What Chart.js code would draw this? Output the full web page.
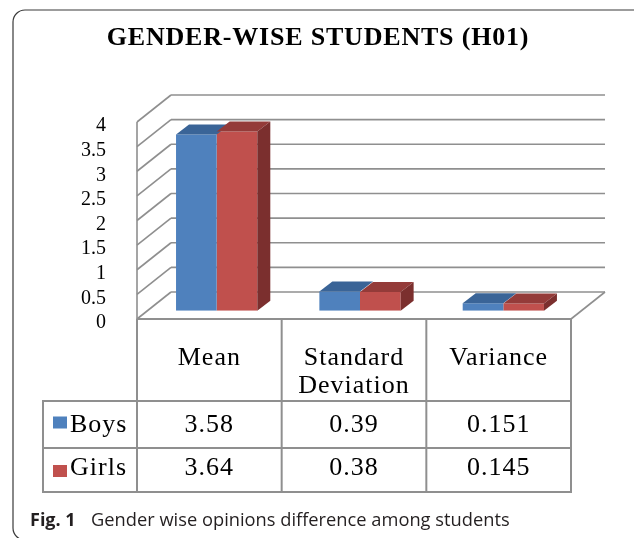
<!DOCTYPE html>
<html>
<head>
<meta charset="utf-8">
<title>Gender-wise students (H01)</title>
<script src="https://cdn.jsdelivr.net/npm/chart.js@4"></script>
<style>
  html, body { margin: 0; padding: 0; background: #fff; }
  #caixa { width: 634px; height: 538px; position: relative; }
</style>
</head>
<body>
<div id="caixa"><canvas id="grafico"></canvas></div>
<script>
// Dados do gráfico
const categories = [['Mean'], ['Standard', 'Deviation'], ['Variance']];
const seriesNames = ['Boys', 'Girls'];
const boysValues = [3.58, 0.39, 0.151];
const girlsValues = [3.64, 0.38, 0.145];
const yTickLabels = ['0', '0.5', '1', '1.5', '2', '2.5', '3', '3.5', '4'];

const serif = '"Liberation Serif", "Times New Roman", serif';
const sans = '"Open Sans", "Noto Sans", sans-serif';
const gridColour = '#8f8f8f';
const frontColours = ['#4F81BD', '#C0504D'];
const topColours = ['#3a6497', '#943b39'];
const sideColours = ['#2f5380', '#7b2f2e'];

// deslocamentos do efeito 3D (em pixeis)
const wallDepth = { x: 34, y: -27 };   // aresta da frente -> parede do fundo
const barShift = { x: 8, y: -8.3 };    // aresta da frente -> face da barra
const barDepth = { x: 13, y: -10 };    // profundidade da barra

function line(ctx, x1, y1, x2, y2) {
    ctx.beginPath();
    ctx.moveTo(x1, y1);
    ctx.lineTo(x2, y2);
    ctx.stroke();
}

function quad(ctx, pts, colour) {
    ctx.beginPath();
    ctx.moveTo(pts[0][0], pts[0][1]);
    for (let i = 1; i < pts.length; i++) ctx.lineTo(pts[i][0], pts[i][1]);
    ctx.closePath();
    ctx.fillStyle = colour;
    ctx.fill();
}

// plano da frente (chão + tabela) derivado das escalas
function frontPlane(chart) {
    const ca = chart.chartArea;
    const left = ca.left - barShift.x;
    const right = ca.right - 4;
    const xs = chart.scales.x;
    return {
        left: left,
        right: right,
        y: v => chart.scales.y.getPixelForValue(v) - barShift.y,
        col: i => left + (xs.getPixelForValue(i - 0.5) - ca.left) * (right - left) / (ca.right - ca.left)
    };
}

function drawFrame(ctx) {
    const x = 13, y = 10, w = 660, h = 530, r = 12;
    ctx.save();
    ctx.strokeStyle = '#3a3a3a';
    ctx.lineWidth = 1.2;
    ctx.beginPath();
    ctx.moveTo(x + r, y);
    ctx.lineTo(x + w, y);
    ctx.moveTo(x + r, y);
    ctx.arcTo(x, y, x, y + r, r);
    ctx.lineTo(x, y + h - r);
    ctx.arcTo(x, y + h, x + r, y + h, r);
    ctx.lineTo(x + w, y + h);
    ctx.stroke();
    ctx.restore();
}

function drawTitle(ctx) {
    ctx.save();
    ctx.font = 'bold 26px ' + serif;
    ctx.letterSpacing = '0.8px';
    ctx.fillStyle = '#000';
    ctx.textBaseline = 'alphabetic';
    const txt = 'GENDER-WISE STUDENTS (H01)';
    const w = ctx.measureText(txt).width;
    ctx.fillText(txt, 318 - w / 2, 45);
    ctx.restore();
}

function drawWalls(ctx, chart, fp) {
    ctx.save();
    ctx.strokeStyle = gridColour;
    ctx.lineWidth = 1.6;
    const backLeft = fp.left + wallDepth.x;
    const backRight = fp.right + wallDepth.x;
    yTickLabels.forEach(t => {
        const v = parseFloat(t);
        const yf = fp.y(v);
        const yb = yf + wallDepth.y;
        line(ctx, backLeft, yb, backRight, yb);          // parede do fundo
        line(ctx, fp.left, yf, backLeft, yb);            // parede lateral
    });
    // aresta vertical da frente
    line(ctx, fp.left, fp.y(0), fp.left, fp.y(4));
    // chão: aresta direita
    line(ctx, fp.right, fp.y(0), backRight, fp.y(0) + wallDepth.y);
    ctx.restore();

    // etiquetas do eixo
    ctx.save();
    ctx.font = '20px ' + serif;
    ctx.fillStyle = '#000';
    ctx.textAlign = 'right';
    ctx.textBaseline = 'middle';
    yTickLabels.forEach(t => {
        ctx.fillText(t, 106, fp.y(parseFloat(t)) + 4);
    });
    ctx.restore();
}

function drawTable(ctx, chart, fp) {
    const top = fp.y(0);
    const headBottom = 401, rowMid = 448, bottom = 492, tableLeft = 43;
    const cols = [0, 1, 2, 3].map(i => fp.col(i));
    const valuesBySeries = [boysValues, girlsValues];

    ctx.save();
    ctx.strokeStyle = gridColour;
    ctx.lineWidth = 2;
    line(ctx, cols[0], top, cols[3], top);
    cols.forEach(c => line(ctx, c, top, c, headBottom));
    ctx.strokeRect(tableLeft, headBottom, cols[3] - tableLeft, bottom - headBottom);
    line(ctx, tableLeft, rowMid, cols[3], rowMid);
    cols.slice(0, 3).forEach(c => line(ctx, c, headBottom, c, bottom));

    ctx.font = '26px ' + serif;
    ctx.letterSpacing = '1px';
    ctx.fillStyle = '#000';
    ctx.textAlign = 'center';
    ctx.textBaseline = 'alphabetic';
    categories.forEach((lab, i) => {
        const cx = (cols[i] + cols[i + 1]) / 2;
        lab.forEach((l, k) => ctx.fillText(l, cx, 365 + k * 28));
    });

    const baselines = [431.7, 475];
    valuesBySeries.forEach((vals, s) => {
        vals.forEach((v, i) => {
            const cx = (cols[i] + cols[i + 1]) / 2;
            ctx.fillText(String(v), cx, baselines[s]);
        });
    });

    // legenda dentro da tabela
    ctx.textAlign = 'left';
    const keyTops = [416.5, 465];
    seriesNames.forEach((n, s) => {
        ctx.fillStyle = frontColours[s];
        ctx.fillRect(53, keyTops[s], 14, 12);
        ctx.fillStyle = '#000';
        ctx.fillText(n, 70, baselines[s]);
    });
    ctx.restore();
}

function drawCaption(ctx) {
    ctx.save();
    ctx.fillStyle = '#231f20';
    ctx.textBaseline = 'alphabetic';
    ctx.font = 'bold 18px ' + sans;
    ctx.fillText('Fig. 1', 30, 526);
    ctx.font = '18.3px ' + sans;
    ctx.fillText('Gender wise opinions difference among students', 91, 526);
    ctx.restore();
}

const desenho3d = {
    id: 'desenho3d',
    beforeDatasetsDraw(chart) {
        const ctx = chart.ctx;
        const fp = frontPlane(chart);
        drawFrame(ctx);
        drawTitle(ctx);
        drawWalls(ctx, chart, fp);
        drawTable(ctx, chart, fp);
        drawCaption(ctx);
    },
    afterDatasetsDraw(chart) {
        const ctx = chart.ctx;
        const n = chart.data.datasets.length;
        chart.data.datasets.forEach((ds, s) => {
            chart.getDatasetMeta(s).data.forEach(bar => {
                const p = bar.getProps(['x', 'y', 'base', 'width'], true);
                const l = p.x - p.width / 2, r = p.x + p.width / 2;
                const dx = barDepth.x, dy = barDepth.y;
                // face de cima
                quad(ctx, [[l, p.y], [r, p.y], [r + dx, p.y + dy], [l + dx, p.y + dy]], topColours[s]);
                // face lateral (só a última série fica visível)
                if (s === n - 1) {
                    quad(ctx, [[r, p.y], [r + dx, p.y + dy], [r + dx, p.base + dy], [r, p.base]], sideColours[s]);
                }
            });
        });
    }
};

let grafico;

function criarGrafico() {
    const ctx = document.getElementById('grafico').getContext('2d');
    grafico = new Chart(ctx, {
        type: 'bar',
        data: {
            labels: categories,
            datasets: [
                { label: seriesNames[0], data: boysValues, backgroundColor: frontColours[0], borderWidth: 0 },
                { label: seriesNames[1], data: girlsValues, backgroundColor: frontColours[1], borderWidth: 0 }
            ]
        },
        options: {
            responsive: true,
            maintainAspectRatio: false,
            animation: false,
            layout: { padding: { left: 145, right: 59, top: 113.7, bottom: 227.3 } },
            datasets: { bar: { categoryPercentage: 0.567, barPercentage: 1 } },
            scales: {
                x: { display: false },
                y: { display: false, min: 0, max: 4, ticks: { stepSize: 0.5 } }
            },
            plugins: {
                legend: { display: false },
                tooltip: { enabled: false },
                title: { display: false }
            }
        },
        plugins: [desenho3d]
    });
}

window.onload = criarGrafico;
</script>
</body>
</html>
